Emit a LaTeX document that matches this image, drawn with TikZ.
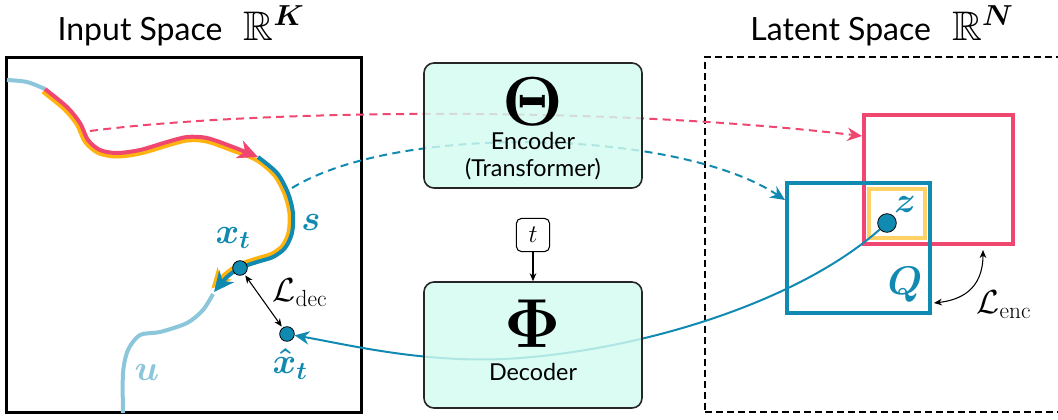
\RequirePackage{fix-cm}
\documentclass[tikz,border=0pt]{standalone}
\usepackage{amsmath,amssymb}
\usepackage[no-math]{fontspec}
\setmainfont{Lato}
\usetikzlibrary{arrows.meta,calc}

\definecolor{pinkc}{HTML}{EF476F}
\definecolor{bluec}{HTML}{118AB2}
\definecolor{lbluec}{HTML}{8CC6DA}
\definecolor{yellowc}{HTML}{FFB30F}
\definecolor{ylboxc}{HTML}{FFD166}
\definecolor{mintc}{HTML}{D2FBEF}

\tikzset{
  netbox/.style={draw=black!85, line width=1.2pt, fill=mintc, fill opacity=0.82, text opacity=1,
    rounded corners=7.5pt, minimum width=218*0.75pt, minimum height=125*0.75pt},
  boxtxt/.style={font=\fontsize{17.5}{20}\selectfont, anchor=base},
  spacebox/.style={draw=black, line width=2pt, minimum width=355*0.75pt, minimum height=355*0.75pt},
  setbox/.style={line width=3pt, inner sep=0pt},
  ptdot/.style={circle, draw=black, line width=0.6pt, fill=bluec, inner sep=0pt, minimum size=11pt},
  traj/.style={line width=3pt},
  trajtip/.style={-{Stealth[length=15pt,width=14pt,inset=4.5pt]}},
  bigtip/.style={-{Stealth[length=11pt,width=10pt]}},
  smalltips/.style={{Stealth[length=6pt,width=5pt]}-{Stealth[length=6pt,width=5pt]}},
  lbl/.style={text=bluec, font=\fontsize{27}{27}\selectfont},
  ttl/.style={font=\fontsize{24}{28}\selectfont, anchor=base},
}

\begin{document}
\begin{tikzpicture}[x=0.75pt,y=0.75pt,yscale=-1,xscale=1]
\useasboundingbox (0,0) rectangle (1058,419);

% Text Node
\node[ttl] (intitle) at (181,40) {Input Space\hspace{16pt}{\fontsize{31}{31}\selectfont$\mathbb{R}^{\boldsymbol{K}}$}};
% Text Node
\node[ttl] (lattitle) at (882,40) {Latent Space\hspace{16pt}{\fontsize{31}{31}\selectfont$\mathbb{R}^{\boldsymbol{N}}$}};

%Shape: Rectangle
\node[spacebox] (inbox) at (184,235) {};
%Shape: Rectangle (runs past the right edge)
\node[spacebox, dash pattern=on 5.25pt off 3pt, minimum width=370*0.75pt] (latbox) at (890,234.5) {};

%Shape: Rectangle
\node[setbox, draw=pinkc, minimum width=149*0.75pt, minimum height=129*0.75pt] (pbox) at (938.5,179.5) {};
%Shape: Rectangle
\node[setbox, draw=bluec, minimum width=143*0.75pt, minimum height=130*0.75pt] (qbox) at (858.5,248) {};
%Shape: Rectangle
\node[setbox, draw=ylboxc, minimum width=56*0.75pt, minimum height=49*0.75pt] (ybox) at (897,213.5) {};

%Curve Lines
\draw[traj, lbluec] plot[smooth] coordinates {(7,80) (27,82) (45,89)};
\draw[traj, lbluec] plot[smooth] coordinates {(213,294) (203,310) (187,323) (160,332) (140,335) (128,350) (123,373) (123,413)};
%Curve Lines
\draw[traj, yellowc, trajtip] plot[smooth] coordinates {(42.8,91.7) (64.6,109.5) (77.1,124.9) (85.2,142.1) (98.6,153.2) (117,156.5) (140.7,153.4) (167.9,145.4) (187.3,140.5) (206.3,141.4) (231.8,150.3) (256.2,160) (274.3,175.2) (284.7,194.3) (289.5,213.3) (288.6,232.2) (282.3,245.8) (271.4,253.9) (255.9,258.7) (238.4,264.9) (224.7,274.4) (211.4,288.6)};
\draw[traj, pinkc, trajtip] plot[smooth] coordinates {(45,89) (67,107) (80,123) (88,140) (100,150) (117,153) (140,150) (167,142) (187,137) (207,138) (233,147) (258,157)};
\draw[traj, bluec, trajtip] plot[smooth] coordinates {(258,157) (277,173) (288,193) (293,213) (292,233) (285,248) (273,257) (257,262) (240,268) (227,277) (214,292)};

% Points
\node[ptdot] (xt) at (240,268) {};
\node[ptdot] (xh) at (287,334) {};
\node[ptdot, minimum size=14pt] (z) at (887,223) {};

\coordinate (pinkstart) at (90,131);
\coordinate (bluestart) at (292,188);
\coordinate (decmid) at (520,358);

%Curve Lines
\draw[pinkc, line width=1.5pt, dash pattern=on 6pt off 4pt, bigtip] (pinkstart) .. controls (250,110) and (600,105) .. ($(pbox.north west)+(0,23)$);
%Curve Lines
\draw[bluec, line width=1.5pt, dash pattern=on 6pt off 4pt, bigtip] (bluestart) .. controls (400,122) and (680,130) .. ($(qbox.north west)+(0,19)$);
%Curve Lines
\draw[bluec, line width=1.5pt, bigtip] (z) .. controls (800,300) and (650,348) .. (decmid) .. controls (430,365) and (350,345) .. (xh);

%Rounded Rect
\node[netbox] (enc) at (533,125.5) {};
\node (encsym) at (533,102) {\fontsize{52}{52}\selectfont$\boldsymbol{\Theta}$};
\node[boxtxt] (enctxt) at (533,149) {Encoder};
\node[boxtxt] (enctxt2) at (533,176) {(Transformer)};
%Rounded Rect
\node[netbox, minimum height=126*0.75pt] (dec) at (533,345) {};
\node (decsym) at (533,324) {\fontsize{52}{52}\selectfont$\boldsymbol{\Phi}$};
\node[boxtxt] (dectxt) at (533,380) {Decoder};

%Rounded Rect
\node[draw, rounded corners=4pt, minimum size=25pt, inner sep=0pt, line width=0.8pt, fill=white] (tin) at (533,235) {\fontsize{19}{19}\selectfont$t$};
\draw[line width=0.8pt, -{Stealth[length=6pt,width=5pt]}] (tin) -- (dec);

% Text Node
\node[lbl] (slbl) at (311,222) {$\boldsymbol{s}$};
\node[lbl] (xtlbl) at (233,238) {$\boldsymbol{x_t}$};
\node[lbl] (xhlbl) at (290,364) {$\boldsymbol{\hat{x}_t}$};
\node[lbl, text=lbluec] (ulbl) at (147,372) {$\boldsymbol{u}$};
\node[lbl] (zlbl) at (905,204) {$\boldsymbol{z}$};
\node[lbl, font=\fontsize{30}{30}\selectfont] (qlbl) at (905,285) {$\boldsymbol{Q}$};

% Losses
\draw[line width=0.8pt, smalltips, shorten <=1pt, shorten >=1pt] (xt) -- (xh);
\node (declbl) at (300,293) {\fontsize{25}{25}\selectfont$\mathcal{L}_{\mathrm{dec}}$};
\coordinate (encA) at (983,250);
\coordinate (encB) at (934,303);
\draw[line width=0.8pt, smalltips] (encA) .. controls (983,290) and (960,300) .. (encB);
\node (enclbl) at (1004,305) {\fontsize{25}{25}\selectfont$\mathcal{L}_{\mathrm{enc}}$};

\end{tikzpicture}
\end{document}
